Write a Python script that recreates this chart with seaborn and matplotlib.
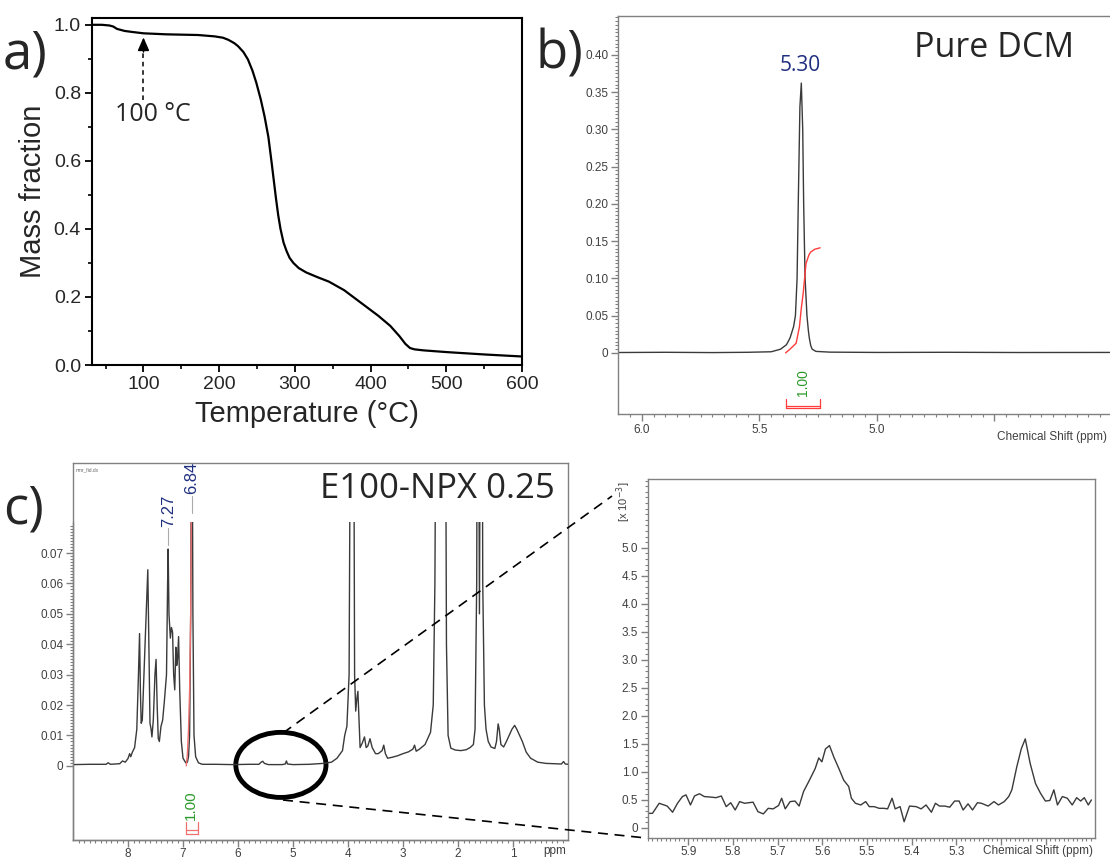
import numpy as np
import pandas as pd
import matplotlib
matplotlib.use("Agg")
import matplotlib.pyplot as plt
import seaborn as sns
from matplotlib.patches import Ellipse
from matplotlib.lines import Line2D
from matplotlib.ticker import FixedLocator, FuncFormatter

# ---- panel a: TGA curve ----
tga_temp = [32, 45, 55, 60, 65, 75, 85, 100, 130, 172, 194, 205, 212, 220, 225, 232,
            238, 244, 249, 255, 260, 265, 269, 272, 275, 278, 281, 285, 289, 293, 298,
            305, 315, 330, 345, 365, 380, 395, 410, 426, 438, 446, 452, 458, 470, 500,
            550, 600]
tga_mass = [1.0, 1.0, 0.998, 0.995, 0.988, 0.982, 0.979, 0.975, 0.972, 0.970, 0.966,
            0.962, 0.956, 0.946, 0.937, 0.92, 0.898, 0.865, 0.83, 0.78, 0.73, 0.67,
            0.60, 0.545, 0.49, 0.44, 0.40, 0.36, 0.335, 0.315, 0.30, 0.285, 0.272,
            0.258, 0.245, 0.22, 0.195, 0.17, 0.145, 0.115, 0.085, 0.062, 0.05, 0.046,
            0.043, 0.038, 0.031, 0.025]
arrow_temp = 100

# ---- panel b: pure DCM spectrum ----
dcm_ppm = [6.10, 5.90, 5.70, 5.55, 5.45, 5.41, 5.385, 5.37, 5.355, 5.347, 5.340, 5.335,
           5.328, 5.322, 5.316, 5.312, 5.306, 5.298, 5.292, 5.288, 5.282, 5.276, 5.26,
           5.20, 5.00, 4.70, 4.40, 4.00]
dcm_int = [0.0005, 0.0008, 0.0004, 0.0008, 0.0015, 0.005, 0.011, 0.02, 0.035, 0.05,
           0.10, 0.20, 0.33, 0.362, 0.30, 0.20, 0.10, 0.05, 0.03, 0.02, 0.01, 0.005,
           0.002, 0.001, 0.0006, 0.0008, 0.0005, 0.0006]
dcm_integral_ppm = [5.389, 5.37, 5.344, 5.33, 5.322, 5.314, 5.302, 5.29, 5.283, 5.265, 5.242]
dcm_integral_val = [0.0, 0.005, 0.013, 0.035, 0.06, 0.08, 0.12, 0.131, 0.135, 0.139, 0.141]
dcm_range = [5.389, 5.242]

# ---- panel c: E100-NPX 0.25 spectrum ----
npx_ppm = [9.00, 8.70, 8.40, 8.36, 8.32, 8.15, 8.10, 8.05, 8.00, 7.97, 7.95, 7.92, 7.88,
           7.84, 7.81, 7.79, 7.775, 7.76, 7.74, 7.71, 7.67, 7.64, 7.62, 7.60, 7.58, 7.565,
           7.54, 7.51, 7.49, 7.47, 7.45, 7.43, 7.40, 7.37, 7.34, 7.30, 7.28, 7.27, 7.255,
           7.23, 7.21, 7.19, 7.17, 7.15, 7.13, 7.115, 7.10, 7.08, 7.06, 7.03, 7.00, 6.95,
           6.92, 6.90, 6.88, 6.86, 6.84, 6.82, 6.80, 6.77, 6.72, 6.65, 6.40, 6.10, 5.80,
           5.62, 5.58, 5.55, 5.52, 5.45, 5.20, 5.14, 5.12, 5.10, 5.00, 4.70, 4.45, 4.30,
           4.20, 4.10, 4.06, 4.02, 3.98, 3.95, 3.92, 3.90, 3.88, 3.86, 3.84, 3.82, 3.80,
           3.78, 3.74, 3.70, 3.67, 3.64, 3.60, 3.56, 3.50, 3.45, 3.38, 3.35, 3.32, 3.28,
           3.20, 3.10, 3.00, 2.90, 2.82, 2.79, 2.76, 2.70, 2.60, 2.50, 2.45, 2.42, 2.38,
           2.30, 2.24, 2.21, 2.18, 2.13, 2.05, 1.95, 1.85, 1.78, 1.72, 1.69, 1.66, 1.64,
           1.61, 1.59, 1.57, 1.55, 1.52, 1.49, 1.45, 1.40, 1.33, 1.30, 1.27, 1.25, 1.22,
           1.17, 1.12, 1.07, 1.02, 0.97, 0.93, 0.88, 0.83, 0.76, 0.68, 0.55, 0.40, 0.12,
           0.08, 0.05, 0.00]
npx_int = [0.0004, 0.0005, 0.0005, 0.0010, 0.0005, 0.0007, 0.0016, 0.0012, 0.0024, 0.0040,
           0.0030, 0.0045, 0.0060, 0.0120, 0.0300, 0.0435, 0.0250, 0.0140, 0.0150, 0.0300,
           0.0500, 0.0645, 0.0400, 0.0140, 0.0120, 0.0095, 0.0150, 0.0300, 0.0350, 0.0200,
           0.0090, 0.0080, 0.0130, 0.0150, 0.0210, 0.0300, 0.0600, 0.0713, 0.0500, 0.0420,
           0.0455, 0.0440, 0.0300, 0.0250, 0.0390, 0.0330, 0.0350, 0.0425, 0.0250, 0.0080,
           0.0025, 0.0010, 0.0012, 0.0030, 0.0100, 0.0500, 0.1500, 0.0500, 0.0100, 0.0030,
           0.0010, 0.0005, 0.0005, 0.0004, 0.0005, 0.0005, 0.0012, 0.0015, 0.0008, 0.0004,
           0.0004, 0.0006, 0.0016, 0.0006, 0.0004, 0.0005, 0.0008, 0.0012, 0.0025, 0.0050,
           0.0100, 0.0130, 0.0300, 0.1500, 0.2000, 0.1500, 0.0300, 0.0180, 0.0220, 0.0245,
           0.0150, 0.0060, 0.0075, 0.0095, 0.0060, 0.0065, 0.0089, 0.0060, 0.0040, 0.0040,
           0.0050, 0.0068, 0.0040, 0.0025, 0.0028, 0.0033, 0.0040, 0.0046, 0.0055, 0.0068,
           0.0048, 0.0055, 0.0070, 0.0110, 0.0200, 0.0600, 0.2000, 0.3000, 0.2000, 0.0400,
           0.0100, 0.0058, 0.0052, 0.0050, 0.0053, 0.0060, 0.0070, 0.0120, 0.0600, 0.2000,
           0.0500, 0.1500, 0.2000, 0.0600, 0.0200, 0.0120, 0.0080, 0.0062, 0.0057, 0.0080,
           0.0138, 0.0120, 0.0070, 0.0062, 0.0080, 0.0100, 0.0120, 0.0133, 0.0120, 0.0100,
           0.0080, 0.0045, 0.0025, 0.0012, 0.0008, 0.0006, 0.0014, 0.0006, 0.0005]
npx_integral_ppm = [6.94, 6.92, 6.90, 6.88, 6.86, 6.85, 6.84]
npx_integral_val = [0.0, 0.004, 0.012, 0.025, 0.05, 0.08, 0.12]
npx_range = [6.95, 6.72]
npx_labels = [("7.27", 0.0727), ("6.84", 0.0833)]

# ---- panel c inset: 6.0-5.0 ppm region (x 10^-3) ----
zoom_ppm = [5.992, 5.980, 5.965, 5.947, 5.935, 5.924, 5.913, 5.905, 5.895, 5.886, 5.875,
            5.864, 5.849, 5.838, 5.826, 5.815, 5.805, 5.795, 5.785, 5.774, 5.755, 5.744,
            5.732, 5.721, 5.710, 5.698, 5.691, 5.683, 5.672, 5.661, 5.652, 5.642, 5.629,
            5.616, 5.608, 5.601, 5.593, 5.584, 5.574, 5.563, 5.552, 5.541, 5.535, 5.526,
            5.514, 5.503, 5.495, 5.484, 5.473, 5.462, 5.454, 5.444, 5.437, 5.426, 5.417,
            5.405, 5.390, 5.379, 5.368, 5.356, 5.347, 5.338, 5.326, 5.315, 5.304, 5.294,
            5.285, 5.274, 5.264, 5.253, 5.244, 5.229, 5.216, 5.206, 5.193, 5.183, 5.176,
            5.165, 5.155, 5.146, 5.135, 5.123, 5.112, 5.101, 5.091, 5.082, 5.074, 5.063,
            5.052, 5.041, 5.031, 5.022, 5.014, 5.005, 4.998]
zoom_int = [0.26, 0.26, 0.44, 0.39, 0.28, 0.44, 0.56, 0.59, 0.41, 0.57, 0.61, 0.56, 0.55,
            0.54, 0.57, 0.38, 0.45, 0.32, 0.47, 0.44, 0.46, 0.29, 0.25, 0.35, 0.34, 0.40,
            0.53, 0.34, 0.47, 0.48, 0.39, 0.65, 0.85, 1.06, 1.25, 1.18, 1.41, 1.47, 1.26,
            1.06, 0.85, 0.74, 0.53, 0.44, 0.41, 0.47, 0.38, 0.38, 0.35, 0.35, 0.34, 0.53,
            0.34, 0.38, 0.11, 0.39, 0.38, 0.34, 0.41, 0.28, 0.44, 0.39, 0.39, 0.37, 0.48,
            0.48, 0.32, 0.43, 0.32, 0.45, 0.44, 0.39, 0.47, 0.41, 0.47, 0.56, 0.68, 1.09,
            1.41, 1.59, 1.15, 0.79, 0.62, 0.48, 0.49, 0.68, 0.41, 0.56, 0.53, 0.41, 0.54,
            0.48, 0.54, 0.41, 0.50]

W, H = 1110, 859


def box(l, t, r, b):
    return [l / W, 1 - b / H, (r - l) / W, (b - t) / H]


sns.set_style("ticks")
plt.rcParams['font.family'] = ['Liberation Sans', 'DejaVu Sans']
TITLE_FONT = ['Open Sans', 'DejaVu Sans']
GRAY = '#808080'
TXT = '#404040'
NAVY = '#1f2f80'
GREEN = '#2a9a2a'
RED = '#ff3b3b'

fig = plt.figure(figsize=(W / 100, H / 100), dpi=100)


def nmr_style(ax, xmaj, xlabels, xminor, ymaj, ylabels, yminor):
    for s in ax.spines.values():
        s.set_color(GRAY)
        s.set_linewidth(1.0)
    ax.xaxis.set_major_locator(FixedLocator(xmaj))
    ax.set_xticklabels(xlabels)
    ax.xaxis.set_minor_locator(FixedLocator(xminor))
    ax.yaxis.set_major_locator(FixedLocator(ymaj))
    ax.set_yticklabels(ylabels)
    ax.yaxis.set_minor_locator(FixedLocator(yminor))
    ax.tick_params(which='both', direction='out', color=GRAY, labelcolor=TXT,
                   labelsize=8.5, pad=2, top=False, right=False)
    ax.tick_params(which='major', length=5, width=1)
    ax.tick_params(which='minor', length=2.5, width=0.8)
    ax.set_xlabel('')
    ax.set_ylabel('')


# ================= panel a =================
axa = fig.add_axes(box(92, 18, 522, 365))
tga = pd.DataFrame({'T': tga_temp, 'm': tga_mass})
sns.lineplot(data=tga, x='T', y='m', ax=axa, color='black', linewidth=1.6, estimator=None)
axa.set_xlim(32, 600)
axa.set_ylim(0, 1.02)
axa.set_xticks(np.arange(100, 601, 100))
axa.set_xticks(np.arange(50, 601, 100), minor=True)
axa.set_yticks(np.arange(0, 1.01, 0.2))
axa.set_yticks(np.arange(0.1, 1.0, 0.2), minor=True)
axa.yaxis.set_major_formatter(FuncFormatter(lambda v, p: f'{v:.1f}'))
for s in axa.spines.values():
    s.set_color('black')
    s.set_linewidth(1.5)
axa.tick_params(which='both', direction='out', color='black', labelsize=14, top=False, right=False)
axa.tick_params(which='major', length=5, width=1.3, pad=3)
axa.tick_params(which='minor', length=3, width=1.2)
axa.set_xlabel('Temperature (\u00b0C)', fontsize=21, labelpad=5)
axa.set_ylabel('Mass fraction', fontsize=21, labelpad=5)
axa.plot([arrow_temp, arrow_temp], [0.78, 0.925], color='black', lw=1.1, dashes=(3, 2.5))
axa.annotate('', xy=(arrow_temp, 0.963), xytext=(arrow_temp, 0.92),
             arrowprops=dict(arrowstyle='-|>,head_width=0.35,head_length=0.8',
                             color='black', lw=1.1, shrinkA=0, shrinkB=0))
axa.text(arrow_temp + 12, 0.735, '100 \u00b0C', fontsize=18, family=TITLE_FONT,
         ha='center', va='center')

# ================= panel b =================
axb = fig.add_axes(box(618, 16, 1112, 414))
sns.lineplot(x=dcm_ppm, y=dcm_int, ax=axb, color='#3a3a3a', linewidth=1.0, estimator=None)
sns.lineplot(x=dcm_integral_ppm, y=dcm_integral_val, ax=axb, color=RED, linewidth=1.0,
             estimator=None)
axb.set_xlim(6.102, 4.0)
axb.set_ylim(-0.082, 0.452)
nmr_style(axb, [6.0, 5.5, 5.0, 4.5], ['6.0', '5.5', '5.0', ''],
          np.arange(4.05, 6.1, 0.05),
          np.arange(0, 0.401, 0.05), ['0'] + [f'{v:.2f}' for v in np.arange(0.05, 0.401, 0.05)],
          np.arange(0, 0.451, 0.005))
axb.spines['right'].set_visible(False)
axb.text(dcm_ppm[13] + 0.004, 0.372, '5.30', color=NAVY, fontsize=15, family=TITLE_FONT,
         ha='center', va='bottom')
axb.text(0.6, 0.92, 'Pure DCM', transform=axb.transAxes, fontsize=24.5, family=TITLE_FONT,
         ha='left', va='center')
axb.text(np.mean(dcm_range), -0.04, '1.00', rotation=90, color=GREEN, fontsize=10,
         ha='center', va='center')
for yy in (-0.071, -0.0735):
    axb.plot(dcm_range, [yy, yy], color=RED, lw=0.9)
for xx in dcm_range:
    axb.plot([xx, xx], [-0.062, -0.0735], color=RED, lw=0.9)
axb.text(0.99, -0.058, 'Chemical Shift (ppm)', transform=axb.transAxes, fontsize=8.5,
         color=TXT, ha='right', va='center')

# ================= panel c (full spectrum) =================
frame = fig.add_axes(box(73, 463, 568, 840))
frame.set_xticks([])
frame.set_yticks([])
for s in frame.spines.values():
    s.set_color(GRAY)
    s.set_linewidth(1.0)
frame.text(0.006, 0.988, 'nmr_fid.dx', transform=frame.transAxes, fontsize=3.5,
           color='#666666', ha='left', va='top')
frame.text(0.5, 0.932, 'E100-NPX 0.25', transform=frame.transAxes, fontsize=25,
           family=TITLE_FONT, ha='left', va='center')

axc = fig.add_axes(box(73, 522, 568, 840))
axc.patch.set_alpha(0)
sns.lineplot(x=npx_ppm, y=npx_int, ax=axc, color='#3a3a3a', linewidth=1.0, estimator=None)
sns.lineplot(x=npx_integral_ppm, y=npx_integral_val, ax=axc, color='#ee7070',
             linewidth=1.0, estimator=None)
axc.set_xlim(9.0, 0.0)
axc.set_ylim(-0.0244, 0.0802)
nmr_style(axc, list(range(1, 9)), [str(v) for v in range(1, 9)], np.arange(0.1, 9.0, 0.1),
          np.arange(0, 0.0701, 0.01), ['0'] + [f'{v:.2f}' for v in np.arange(0.01, 0.0701, 0.01)],
          np.arange(0, 0.0795, 0.001))
axc.tick_params(axis='x', pad=0.5)
axc.spines['top'].set_visible(False)
axc.spines['right'].set_visible(False)
for lab, ytop in npx_labels:
    xv = float(lab)
    axc.plot([xv, xv], [ytop, ytop + 0.0055], color='#aaaaaa', lw=0.8, clip_on=False)
    axc.text(xv, ytop + 0.006, lab, rotation=90, color=NAVY, fontsize=12, ha='center',
             va='bottom', clip_on=False)
axc.text(6.85, -0.0128, '1.00', rotation=90, color=GREEN, fontsize=11, ha='center', va='center')
for yy in (-0.0212, -0.0224):
    axc.plot(npx_range, [yy, yy], color='#ee7070', lw=0.9)
for xx in npx_range:
    axc.plot([xx, xx], [-0.0186, -0.0224], color='#ee7070', lw=0.9)
axc.text(0.974, -0.036, 'ppm', transform=axc.transAxes, fontsize=8.5, color=TXT,
         ha='center', va='center')
axc.add_patch(Ellipse((5.22, 0.0003), width=1.64, height=0.0214, fill=False,
                      edgecolor='black', lw=3.5))

# ================= panel c inset =================
axz = fig.add_axes(box(648, 479, 1095, 838))
sns.lineplot(x=zoom_ppm, y=zoom_int, ax=axz, color='#3a3a3a', linewidth=1.0, estimator=None)
axz.set_xlim(5.99, 4.99)
axz.set_ylim(-0.18, 6.23)
nmr_style(axz, list(np.round(np.arange(5.1, 5.95, 0.1), 1)),
          ['', ''] + [f'{v:.1f}' for v in np.arange(5.3, 5.95, 0.1)],
          np.arange(5.0, 5.99, 0.01),
          np.arange(0, 5.01, 0.5), ['0'] + [f'{v:.1f}' for v in np.arange(0.5, 5.01, 0.5)],
          np.arange(0, 6.21, 0.1))
axz.tick_params(axis='x', pad=1)
axz.text(0.995, -0.035, 'Chemical Shift (ppm)', transform=axz.transAxes, fontsize=8.5,
         color=TXT, ha='right', va='center')
fig.text(624 / W, 1 - 502 / H, '[x 10$^{-3}$]', rotation=90, fontsize=8, color=TXT,
         ha='center', va='center')

# ---- connector lines and panel letters ----
fig.add_artist(Line2D([283 / W, 612 / W], [1 - 733 / H, 1 - 496 / H], transform=fig.transFigure,
                      color='black', lw=1.2, dashes=(6, 4)))
fig.add_artist(Line2D([283 / W, 646 / W], [1 - 800 / H, 1 - 838 / H], transform=fig.transFigure,
                      color='black', lw=1.2, dashes=(6, 4)))
for lx, ly, letter in [(3, 55, 'a)'), (535, 55, 'b)'), (3, 510, 'c)')]:
    fig.text(lx / W, 1 - ly / H, letter, fontsize=38, family=TITLE_FONT, ha='left', va='center')

fig.savefig('out.png', dpi=100)
